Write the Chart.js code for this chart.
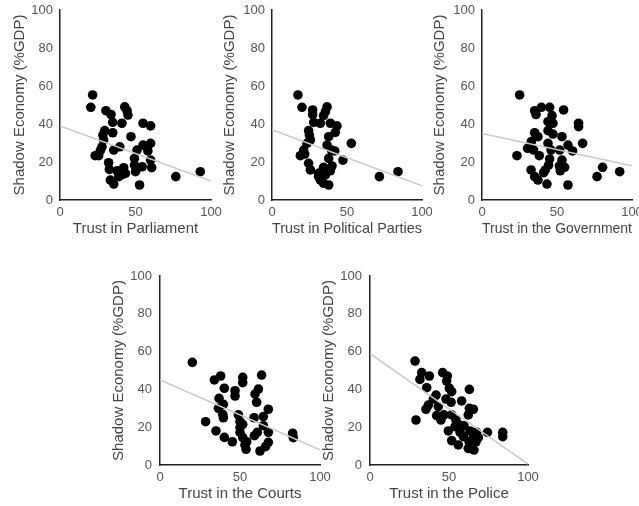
<!DOCTYPE html>
<html>
<head>
<meta charset="utf-8">
<script src="https://cdn.jsdelivr.net/npm/chart.js@4.4.1/dist/chart.umd.min.js"></script>
<style>
  body { margin: 0; background: #fff; }
  #wrap { position: relative; width: 639px; height: 506px; overflow: hidden; }
  canvas { position: absolute; }
</style>
</head>
<body>
<div id="wrap">
  <canvas id="c1" width="224" height="240" style="left:0;top:0"></canvas>
  <canvas id="c2" width="218" height="240" style="left:214px;top:0"></canvas>
  <canvas id="c3" width="213" height="240" style="left:426px;top:0"></canvas>
  <canvas id="c4" width="240" height="246" style="left:100px;top:260px"></canvas>
  <canvas id="c5" width="235" height="246" style="left:310px;top:260px"></canvas>
</div>
<script>
// shared axis things
const yTitle = "Shadow Economy (%GDP)";
const xTicks = [0, 50, 100];
const yTicks = [0, 20, 40, 60, 80, 100];
const trendX = [0, 100];

// Trust in Parliament
const parlTrust = [21.6, 20.4, 30.4, 33.8, 42.9, 44.4, 45, 34.9, 41, 55, 60, 29.6, 34.9, 28.4, 47, 28.9, 60, 55, 39.6, 27.8, 35.6, 51, 58.2, 26.7, 23.3, 25.6, 49.3, 60, 32.2, 32.7, 49.3, 51, 54.4, 60.7, 37.8, 42.2, 43.3, 38.9, 33.3, 35.6, 52.7, 76.7, 92.9, 50, 40.7];
const parlShadow = [55.3, 48.8, 47, 45, 49, 47, 44.7, 40.9, 40.4, 40.4, 39, 36.5, 35.4, 34.2, 33.3, 31.6, 29.8, 28.9, 28, 28, 26.3, 26.3, 25.8, 26, 23.3, 23.3, 21.9, 21, 19.6, 16.1, 18.4, 16.7, 17.5, 17, 15.4, 17, 14, 12.3, 10.5, 8.4, 7.9, 12.3, 14.9, 14.9, 13.2];
const parlTrend = [39, 10];

// Trust in Political Parties
const partyTrust = [17.3, 20, 27.1, 27.1, 36.7, 35.6, 34.4, 27.8, 32.2, 38.9, 43.3, 42.2, 24.4, 24.9, 37.8, 25.6, 52.9, 23.3, 36.7, 41.8, 21.1, 39.6, 18.9, 21.8, 37.8, 47.3, 24.4, 25.6, 34.4, 40, 38.9, 33.3, 31.1, 32.2, 34.4, 37.8, 71.6, 84, 35.6, 31.1];
const partyShadow = [55.3, 48.8, 47.4, 45, 49, 46.5, 44.4, 40.9, 40.4, 40.4, 39, 35.6, 36.5, 34.2, 33.3, 31.6, 29.8, 29.8, 28.9, 25.8, 26.3, 26.3, 23.3, 24.2, 21.9, 21, 19.3, 15.8, 17.2, 17.9, 15.4, 14.9, 12.3, 10.5, 8.8, 7.9, 12.3, 14.9, 13.2, 14];
const partyTrend = [37, 7.5];

// Trust in the Government
const govTrust = [25.1, 35.1, 39.6, 45.1, 54.4, 36, 46.7, 44, 47.3, 64.4, 64.4, 35.1, 44, 47.3, 37.3, 53.3, 32.9, 44, 57.3, 67.1, 30.4, 34.4, 46, 51.8, 60.4, 23.3, 38.2, 45.1, 53.3, 44.4, 51.6, 55.1, 32.7, 42.2, 52.2, 35.1, 37.3, 43.3, 57.3, 80.4, 76.7, 91.8, 41.1];
const govShadow = [55.3, 47, 48.8, 48.8, 47.4, 45, 44.4, 41.2, 40.4, 40.4, 38.6, 35.4, 36.5, 34.7, 33.3, 33.3, 30.7, 29.8, 28.9, 29.8, 27.2, 26.3, 26.3, 26.3, 25.8, 23.3, 23.3, 21.6, 21, 18.4, 17.9, 17.2, 15.8, 15.8, 15.4, 12.3, 10.5, 8.4, 7.9, 17.2, 12.3, 14.9, 14.4];
const govTrend = [35, 18];

// Trust in the Courts
const courtTrust = [20.2, 34, 37.9, 51.7, 51.7, 63.5, 40.2, 46.9, 46.9, 61.5, 59.4, 36.9, 39.6, 60.4, 36.5, 39.2, 39.6, 67.7, 49, 58.8, 64.6, 50, 51.7, 28.5, 64.6, 35, 50, 60.8, 67.7, 59, 51.7, 40.2, 45.2, 54.2, 67.7, 53.1, 66, 53.8, 62.5, 82.9, 83.3, 50];
const courtShadow = [54.3, 45, 47.1, 46.4, 43.6, 47.6, 40.6, 39.3, 36.5, 40.2, 37.6, 35.3, 32.1, 33.2, 30, 26.8, 25, 29.5, 26.5, 25, 25.6, 22.9, 21.5, 22.9, 20.8, 18, 17.3, 17.3, 17.3, 15.5, 14.5, 14.6, 12.3, 12.3, 12, 10.6, 9.7, 8.3, 7.4, 16.8, 14.5, 19.8];
const courtTrend = [45, 8];

// Trust in the Police
const policeTrust = [28.5, 32.7, 31.6, 37.6, 46, 48.9, 48.5, 35.9, 50.2, 51.7, 62.9, 41.8, 40.1, 48.1, 51.3, 58, 36.9, 35.4, 43.2, 62.9, 65.4, 62.2, 42.2, 46.8, 44.9, 51.7, 54.4, 29.1, 56.5, 59.5, 53.8, 49.6, 57, 63.3, 67.5, 74.3, 84, 84, 59.1, 65.4, 68.6, 51.7, 62.7, 67.1, 55.9, 62.2, 65.8];
const policeShadow = [55, 48.9, 45.3, 47.1, 48.9, 47.1, 44.4, 40.9, 40.6, 38.8, 40, 37, 34.9, 34.9, 33.2, 33.9, 31.7, 29.5, 30.9, 30, 29.5, 26.5, 26.1, 26.5, 23.8, 26.5, 23.8, 23.8, 21.2, 20.8, 20.3, 18, 17.3, 18, 17.3, 17.3, 17.3, 15, 15, 15, 14.5, 12.9, 12.3, 12.3, 10.6, 8.8, 7.9];
const policeTrend = [59, 0.5];

const FONT = "'Liberation Sans', Arial, Helvetica, sans-serif";

function makePanel(id, xs, ys, trend, xLabel, box) {
    const pts = xs.map((x, i) => ({ x: x, y: ys[i] }));
    const line = trendX.map((x, i) => ({ x: x, y: trend[i] }));
    new Chart(document.getElementById(id), {
        type: "scatter",
        data: {
            datasets: [{
                type: "line",
                data: line,
                showLine: true,
                borderColor: "#c9c9c9",
                borderWidth: 1.5,
                pointRadius: 0,
                order: 0
            }, {
                data: pts,
                backgroundColor: "#000",
                borderWidth: 0,
                pointRadius: 4.8,
                order: 1
            }]
        },
        options: {
            responsive: false,
            animation: false,
            devicePixelRatio: 1,
            layout: { padding: { left: 0, right: box.right, top: box.top, bottom: 0 } },
            plugins: { legend: { display: false }, tooltip: { enabled: false } },
            scales: {
                x: {
                    type: "linear",
                    min: 0, max: 100,
                    afterBuildTicks: s => { s.ticks = xTicks.map(v => ({ value: v })); },
                    afterFit: s => { s.height = box.xh; s.paddingLeft = 0; s.paddingRight = 0; },
                    grid: { display: false, drawTicks: false },
                    border: { display: true, color: "#222", width: 1.5 },
                    ticks: { padding: 5, color: "#555", font: { family: FONT, size: 13 } },
                    title: {
                        display: true, text: xLabel, color: "#444",
                        font: { family: FONT, size: 15 },
                        padding: { top: 0, bottom: box.xtp }
                    }
                },
                y: {
                    type: "linear",
                    min: 0, max: 100,
                    afterBuildTicks: s => { s.ticks = yTicks.map(v => ({ value: v })); },
                    afterFit: s => { s.width = box.yw; s.paddingTop = 0; s.paddingBottom = 0; },
                    grid: { display: false, drawTicks: false },
                    border: { display: true, color: "#222", width: 1.5 },
                    ticks: { padding: box.tp, color: "#555", font: { family: FONT, size: 13 } },
                    title: {
                        display: true, text: yTitle, color: "#444",
                        font: { family: FONT, size: 15 },
                        padding: { top: box.ytp, bottom: 0 }
                    }
                }
            }
        }
    });
}

makePanel("c1", parlTrust, parlShadow, parlTrend, "Trust in Parliament", { yw: 60, right: 13, top: 10, xh: 40, xtp: 2, ytp: 11, tp: 7 });
makePanel("c2", partyTrust, partyShadow, partyTrend, "Trust in Political Parties", { yw: 58, right: 10, top: 10, xh: 40, xtp: 2, ytp: 7, tp: 7 });
makePanel("c3", govTrust, govShadow, govTrend, "Trust in the Government", { yw: 56, right: 7, top: 10, xh: 40, xtp: 2, ytp: 5, tp: 7 });
makePanel("c4", courtTrust, courtShadow, courtTrend, "Trust in the Courts", { yw: 60, right: 20, top: 16, xh: 41, xtp: 3, ytp: 10, tp: 8 });
makePanel("c5", policeTrust, policeShadow, policeTrend, "Trust in the Police", { yw: 60, right: 17, top: 16, xh: 41, xtp: 3, ytp: 10, tp: 8 });
</script>
</body>
</html>
